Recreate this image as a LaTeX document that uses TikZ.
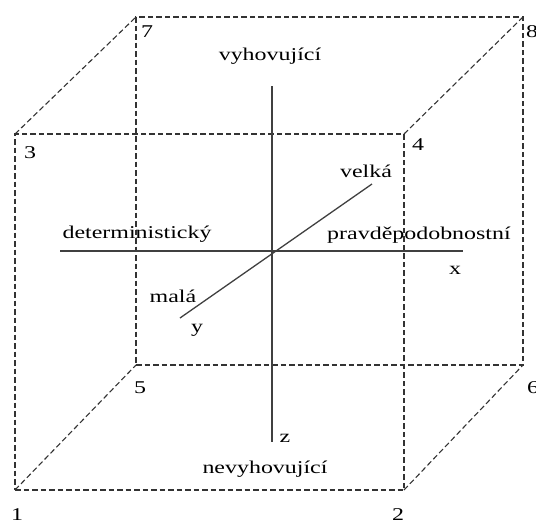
\documentclass[tikz,border=0pt]{standalone}
\usepackage{fontspec}
\setmainfont[FakeStretch=1.33]{Liberation Serif}
\begin{document}
\begin{tikzpicture}[x=1pt,y=-1pt,
  edge/.style={dash pattern=on 5.5pt off 3pt, line width=1.1pt, black!80},
  axis/.style={line width=1.3pt, black!75},
  lbl/.style={font=\fontsize{18}{20}\selectfont, inner sep=0pt, anchor=base}]
\useasboundingbox (0,0) rectangle (536,520);
\coordinate (c1) at (15,490);
\coordinate (c2) at (404,490);
\coordinate (c3) at (15,134);
\coordinate (c4) at (404,134);
\coordinate (c5) at (136,365);
\coordinate (c6) at (523,365);
\coordinate (c7) at (136,17);
\coordinate (c8) at (523,17);
\draw[edge] (c1) -- (c2) -- (c4) -- (c3) -- cycle;
\draw[edge] (c5) -- (c6) -- (c8) -- (c7) -- cycle;
\draw[edge] (c1) -- (c5);
\draw[edge] (c2) -- (c6);
\draw[edge] (c3) -- (c7);
\draw[edge] (c4) -- (c8);
\coordinate (zt) at (272,86);
\coordinate (zb) at (272,442);
\coordinate (xl) at (60,251);
\coordinate (xr) at (463,251);
\coordinate (yl) at (180,318);
\coordinate (yr) at (372,184);
\draw[axis] (zt) -- (zb);
\draw[axis] (xl) -- (xr);
\draw[axis] (yl) -- (yr);
\node[lbl] (n7) at (147,37) {7};
\node[lbl] (n8) at (532,37) {8};
\node[lbl] (n3) at (30,158) {3};
\node[lbl] (n4) at (418,150) {4};
\node[lbl] (n5) at (140,393) {5};
\node[lbl] (n6) at (533,393) {6};
\node[lbl] (n1) at (17,520) {1};
\node[lbl] (n2) at (398,520) {2};
\node[lbl] (top) at (270,60) {vyhovující};
\node[lbl] (bot) at (265,473) {nevyhovující};
\node[lbl] (det) at (137,238) {deterministický};
\node[lbl] (pra) at (419,239) {pravděpodobnostní};
\node[lbl] (xlab) at (455,274) {x};
\node[lbl] (vel) at (366,177) {velká};
\node[lbl] (mal) at (173,302) {malá};
\node[lbl] (ylab) at (197,332) {y};
\node[lbl] (zlab) at (285,442) {z};
\end{tikzpicture}
\end{document}
